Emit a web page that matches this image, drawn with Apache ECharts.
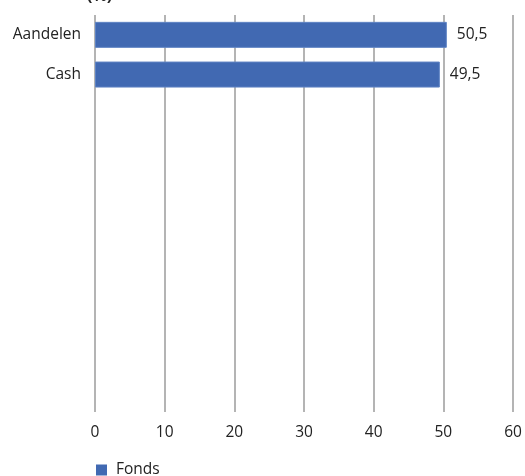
<!DOCTYPE html>
<html><head><meta charset="utf-8">
<script src="https://cdn.jsdelivr.net/npm/echarts@6/dist/echarts.min.js"></script>
<style>html,body{margin:0;padding:0;background:#fff}#c{width:525px;height:476px}</style>
</head><body><div id="c"></div>
<script>
const categories = ["Aandelen", "Cash", "", "", "", "", "", "", "", ""];
const fondsValues = [50.5, 49.5, null, null, null, null, null, null, null, null];
const xTicks = [0, 10, 20, 30, 40, 50, 60];
const seriesName = "Fonds";
const titleText = "(%)";

const chart = echarts.init(document.getElementById('c'));
const font = "'Open Sans', 'Noto Sans', sans-serif";
chart.setOption({
  animation: false,
  title: { text: titleText, left: 82, top: -17, textStyle: { fontSize: 16, fontWeight: 'bold', color: '#222', fontFamily: font } },
  grid: { left: 95, right: 12, top: 15, bottom: 64, containLabel: false },
  xAxis: {
    type: 'value', min: xTicks[0], max: xTicks[xTicks.length - 1], interval: 10,
    axisLine: { show: false }, axisTick: { show: false },
    splitLine: { show: true, lineStyle: { color: '#b4b4b4', width: 2 } },
    axisLabel: { color: '#222', fontSize: 15.5, fontFamily: font, margin: 13 }
  },
  yAxis: {
    type: 'category', data: categories, inverse: true,
    axisLine: { show: false }, axisTick: { show: false },
    axisLabel: { color: '#222', fontSize: 15.5, fontFamily: font, margin: 14 }
  },
  legend: {
    data: [seriesName], left: 96, bottom: -2, padding: 0, itemWidth: 11, itemHeight: 11,
    icon: 'rect', itemStyle: { borderWidth: 0, color: '#4169b2' },
    textStyle: { color: '#222', fontSize: 15.5, fontFamily: font, padding: [0, 0, 0, 4] }, itemGap: 6
  },
  series: [{
    name: seriesName, type: 'bar', data: fondsValues, barWidth: 26,
    itemStyle: { color: '#4169b2', borderColor: '#5f84c4', borderWidth: 1 },
    label: { show: true, position: 'right', distance: 10, color: '#222', fontSize: 15.5, fontFamily: font,
      formatter: p => p.value == null ? '' : String(p.value).replace('.', ',') }
  }]
});
</script></body></html>
